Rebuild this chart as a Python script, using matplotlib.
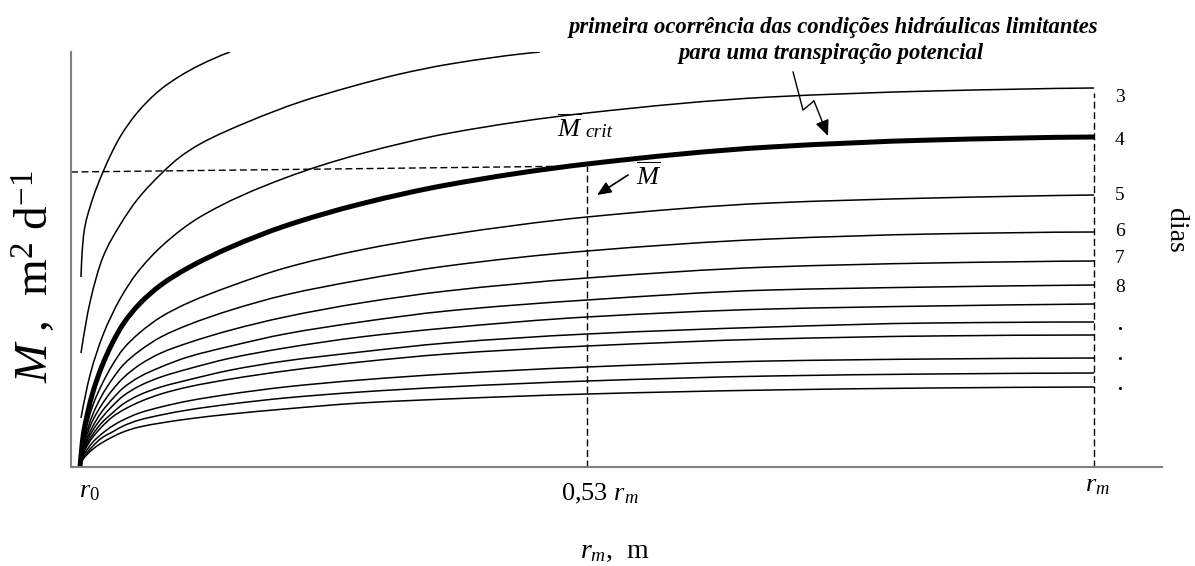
import matplotlib
matplotlib.use("Agg")
import numpy as np
import matplotlib.pyplot as plt
from matplotlib.path import Path
from matplotlib.patches import PathPatch

plt.rcParams['font.family'] = ['Liberation Serif', 'DejaVu Serif']
plt.rcParams['mathtext.fontset'] = 'custom'
plt.rcParams['mathtext.rm'] = 'Liberation Serif'
plt.rcParams['mathtext.it'] = 'Liberation Serif:italic'
plt.rcParams['mathtext.bf'] = 'Liberation Serif:bold'

# radial distance, as a fraction of r_m
r_grid = [0.060, 0.063, 0.067, 0.072, 0.080, 0.090, 0.100, 0.115, 0.135,
          0.160, 0.200, 0.250, 0.320, 0.400, 0.530, 0.700, 0.850, 1.000]

# days 1-3 (drawn from just right of r0)
r_day1 = [0.0609, 0.0618, 0.0637, 0.0693, 0.0813, 0.0971, 0.1128, 0.1341,
          0.1527, 0.1712, 0.1990]
M_day1 = [1.90, 2.12, 2.35, 2.60, 2.95, 3.30, 3.54, 3.77, 3.91, 4.02, 4.15]

r_day2 = [0.0609, 0.0693, 0.0813, 0.0971, 0.1128, 0.1369, 0.1527, 0.1712,
          0.2176, 0.2639, 0.3103, 0.3566, 0.4030, 0.4864]
M_day2 = [1.14, 1.65, 2.10, 2.42, 2.67, 2.95, 3.10, 3.23, 3.46, 3.65, 3.80,
          3.93, 4.03, 4.15]

r_day3 = [0.0609, 0.0693, 0.0813, 0.0971, 0.1128, 0.1369, 0.1712, 0.2500,
          0.3196, 0.4030, 0.530, 0.700, 0.850, 1.000]
M_day3 = [0.49, 0.92, 1.32, 1.68, 1.94, 2.22, 2.50, 2.89, 3.13, 3.34, 3.54,
          3.70, 3.76, 3.79]

# days 4-14 on the common grid
M_day4 = [0, 0.32, 0.54, 0.75, 1.00, 1.24, 1.43, 1.63, 1.82, 1.99, 2.20, 2.41,
          2.63, 2.82, 3.03, 3.20, 3.27, 3.30]
M_day5 = [0, 0.26, 0.44, 0.62, 0.82, 1.02, 1.18, 1.34, 1.50, 1.64, 1.81, 1.99,
          2.17, 2.32, 2.50, 2.64, 2.69, 2.72]
M_day6 = [0, 0.23, 0.38, 0.53, 0.71, 0.88, 1.02, 1.16, 1.30, 1.42, 1.57, 1.72,
          1.87, 2.01, 2.16, 2.28, 2.33, 2.35]
M_day7 = [0, 0.20, 0.34, 0.47, 0.62, 0.77, 0.89, 1.02, 1.14, 1.24, 1.37, 1.50,
          1.64, 1.76, 1.89, 2.00, 2.04, 2.06]
M_day8 = [0, 0.18, 0.30, 0.41, 0.55, 0.68, 0.79, 0.90, 1.00, 1.10, 1.21, 1.33,
          1.45, 1.56, 1.67, 1.77, 1.80, 1.82]
M_day9 = [0, 0.16, 0.27, 0.37, 0.49, 0.61, 0.71, 0.81, 0.90, 0.98, 1.09, 1.19,
          1.30, 1.39, 1.50, 1.58, 1.61, 1.63]
M_day10 = [0, 0.14, 0.24, 0.33, 0.44, 0.54, 0.63, 0.72, 0.80, 0.87, 0.97, 1.06,
           1.15, 1.24, 1.33, 1.40, 1.44, 1.45]
M_day11 = [0, 0.13, 0.22, 0.30, 0.40, 0.50, 0.57, 0.65, 0.73, 0.80, 0.88, 0.96,
           1.05, 1.13, 1.21, 1.28, 1.31, 1.32]
M_day12 = [0, 0.11, 0.18, 0.25, 0.33, 0.41, 0.47, 0.54, 0.60, 0.66, 0.73, 0.80,
           0.87, 0.93, 1.00, 1.06, 1.08, 1.09]
M_day13 = [0, 0.09, 0.15, 0.21, 0.29, 0.35, 0.41, 0.47, 0.52, 0.57, 0.63, 0.69,
           0.75, 0.80, 0.86, 0.91, 0.93, 0.94]
M_day14 = [0, 0.08, 0.13, 0.18, 0.24, 0.30, 0.35, 0.40, 0.44, 0.48, 0.53, 0.58,
           0.64, 0.68, 0.73, 0.77, 0.79, 0.80]

r_crit = 0.53
M_bar = 3.03           # day-4 value at r_crit
M_crit_left = 2.95     # dashed guide at the M axis

day_labels = ['3', '4', '5', '6', '7', '8', '.', '.', '.']
day_label_M = [3.70, 3.27, 2.72, 2.35, 2.09, 1.79, 1.42, 1.12, 0.81]


def _end_slope(h0, h1, d0, d1):
    m = ((2 * h0 + h1) * d0 - h0 * d1) / (h0 + h1)
    if np.sign(m) != np.sign(d0):
        m = 0.0
    elif np.sign(d0) != np.sign(d1) and abs(m) > abs(3 * d0):
        m = 3 * d0
    return m


def smooth_line(ax, xs, ys, **kw):
    """Draw a smoothed (monotone cubic Bezier) line through the points."""
    x = np.asarray(xs, float)
    y = np.asarray(ys, float)
    h = np.diff(x)
    d = np.diff(y) / h
    m = np.zeros_like(x)
    for k in range(1, len(x) - 1):
        if d[k - 1] * d[k] <= 0:
            m[k] = 0.0
        else:
            w1 = 2 * h[k] + h[k - 1]
            w2 = h[k] + 2 * h[k - 1]
            m[k] = (w1 + w2) / (w1 / d[k - 1] + w2 / d[k])
    if len(x) > 2:
        m[0] = _end_slope(h[0], h[1], d[0], d[1])
        m[-1] = _end_slope(h[-1], h[-2], d[-1], d[-2])
    else:
        m[:] = d[0]
    verts = [(x[0], y[0])]
    codes = [Path.MOVETO]
    for k in range(len(x) - 1):
        verts += [(x[k] + h[k] / 3, y[k] + m[k] * h[k] / 3),
                  (x[k + 1] - h[k] / 3, y[k + 1] - m[k + 1] * h[k] / 3),
                  (x[k + 1], y[k + 1])]
        codes += [Path.CURVE4] * 3
    patch = PathPatch(Path(verts, codes), facecolor='none', **kw)
    ax.add_patch(patch)
    return patch


W, H = 1195, 566
fig = plt.figure(figsize=(W / 100, H / 100), dpi=100)
ax = fig.add_axes([71 / W, (H - 467) / H, (1162 - 71) / W, (467 - 52) / H])
ax.set_xlim(0.05164, 1.0630)
ax.set_ylim(0, 4.15)

thin = dict(edgecolor='black', lw=1.1, capstyle='butt')
smooth_line(ax, r_day1, M_day1, **thin)
smooth_line(ax, r_day2, M_day2, **thin)
smooth_line(ax, r_day3, M_day3, **thin)
for series in [M_day5, M_day6, M_day7, M_day8, M_day9, M_day10, M_day11,
               M_day12, M_day13, M_day14]:
    smooth_line(ax, r_grid, series, **thin)
smooth_line(ax, r_grid, M_day4, edgecolor='black', lw=3.6, capstyle='butt')

dash = dict(color='black', lw=1.0, linestyle=(0, (5, 2.6)))
ax.plot([ax.get_xlim()[0], r_crit], [M_crit_left, M_bar - 0.02], **dash)
ax.plot([r_crit, r_crit], [0, M_bar - 0.02], **dash)
ax.plot([1.0, 1.0], [0, M_day3[-1] - 0.05], **dash)

for s in ['top', 'right']:
    ax.spines[s].set_visible(False)
for s in ['left', 'bottom']:
    ax.spines[s].set_color('#808080')
    ax.spines[s].set_linewidth(1.5)
ax.set_xticks([])
ax.set_yticks([])

# day labels at the right-hand end
for lab, m in zip(day_labels, day_label_M):
    ax.text(1.024, m, lab, fontsize=14, ha='center', va='center',
            fontweight='bold' if lab == '.' else 'normal')

# r-axis labels
ax.text(0.0683, -0.25, r'$r_{\mathit{0}}$', fontsize=19, ha='center',
        va='center', clip_on=False)
ax.text(0.542, -0.27, r'0,53 $r_{m}$', fontsize=19, ha='center',
        va='center', clip_on=False)
ax.text(1.0028, -0.19, r'$r_{m}$', fontsize=19, ha='center', va='center',
        clip_on=False)
ax.text(0.556, -0.85, r'$r_{m}$,  m', fontsize=20, ha='center',
        va='center', clip_on=False)

fig.text(35 / W, 1 - 277 / H, r'$M$ ,  m$^{2}$ d$^{-1}$', fontsize=34,
         rotation=90, ha='center', va='center')
fig.text(1175 / W, 1 - 230 / H, 'dias', fontsize=20, rotation=-90,
         ha='center', va='center')

# M-bar annotations
ax.text(0.5020, 3.30, r'$\overline{M}$', fontsize=19, ha='left',
        va='baseline')
ax.text(0.5283, 3.30, 'crit', fontsize=14, style='italic', ha='left',
        va='baseline')
ax.text(0.5755, 2.82, r'$\overline{M}$', fontsize=19, ha='left',
        va='baseline')
ax.annotate('', xy=(0.5393, 2.72), xytext=(0.568, 2.92),
            arrowprops=dict(arrowstyle='-|>,head_length=0.7,head_width=0.3',
                            color='black', lw=1.2, mutation_scale=12,
                            shrinkA=0, shrinkB=0))

# zig-zag pointer to the day-4 curve
ax.plot([0.7210, 0.7302, 0.7404], [3.95, 3.57, 3.66], color='black',
        lw=1.0, clip_on=False)
ax.annotate('', xy=(0.7534, 3.31), xytext=(0.7404, 3.66),
            arrowprops=dict(arrowstyle='-|>,head_length=0.8,head_width=0.35',
                            color='black', lw=1.0, mutation_scale=12,
                            shrinkA=0, shrinkB=0))

fig.text(833 / W, 1 - 27 / H,
         'primeira ocorrência das condições hidráulicas limitantes',
         fontsize=16.3, fontweight='bold', style='italic', ha='center',
         va='center')
fig.text(831 / W, 1 - 53 / H, 'para uma transpiração potencial',
         fontsize=16.3, fontweight='bold', style='italic', ha='center',
         va='center')

fig.savefig('out.png', dpi=100)
